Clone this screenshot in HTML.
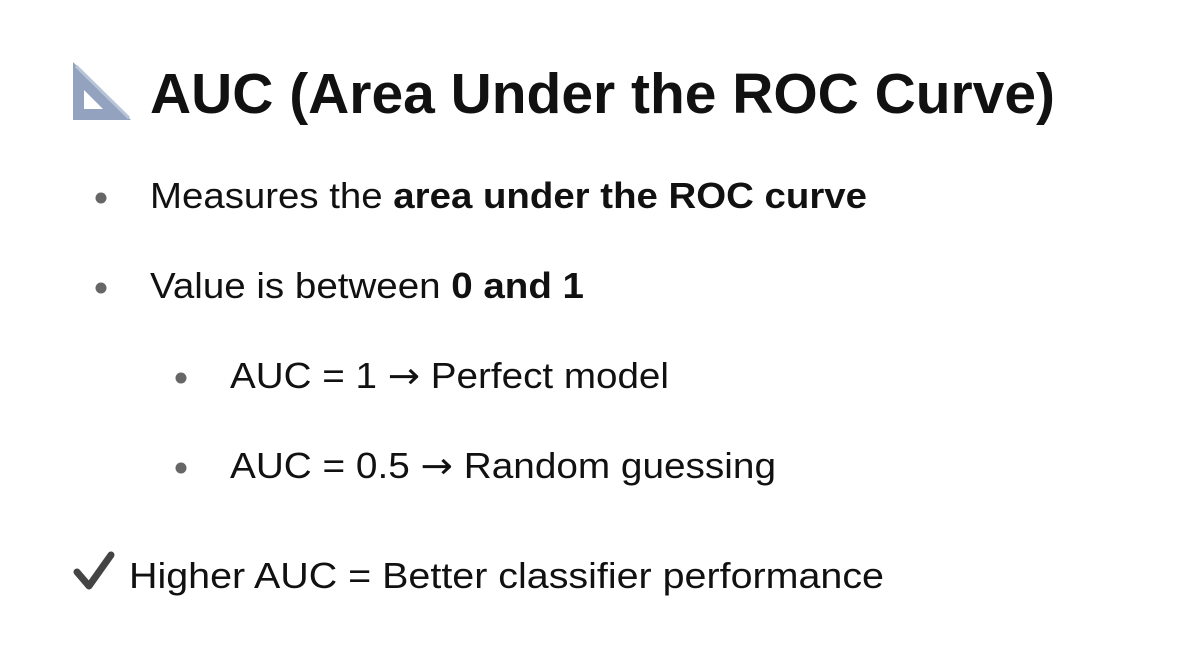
<!DOCTYPE html>
<html><head><meta charset="utf-8"><style>
html,body{margin:0;padding:0;background:#fff;}
svg{display:block;}
text{font-family:"Liberation Sans","DejaVu Sans",sans-serif;fill:#111;}
.arr{font-family:"DejaVu Sans",sans-serif;}
</style></head><body>
<svg width="1192" height="664" viewBox="0 0 1192 664">
  <g>
    <path d="M73,62 L73,120 L131,120 Z" fill="#93a3bf"/>
    <path d="M84,90 L84,109 L103,109 Z" fill="#fff"/>
    <path d="M76,66 L129,118" stroke="#b8c4d8" stroke-width="3"/>
  </g>
  <text x="150" y="113" font-size="57" font-weight="bold" textLength="905" lengthAdjust="spacingAndGlyphs">AUC (Area Under the ROC Curve)</text>

  <circle cx="101" cy="198" r="5.5" fill="#666"/>
  <text x="150" y="208" font-size="36" textLength="717" lengthAdjust="spacingAndGlyphs">Measures the <tspan font-weight="bold">area under the ROC curve</tspan></text>

  <circle cx="101" cy="288" r="5.5" fill="#666"/>
  <text x="150" y="298" font-size="36" textLength="434" lengthAdjust="spacingAndGlyphs">Value is between <tspan font-weight="bold">0 and 1</tspan></text>

  <circle cx="181" cy="378" r="5.5" fill="#666"/>
  <text x="230" y="388" font-size="36" textLength="439" lengthAdjust="spacingAndGlyphs">AUC = 1 <tspan class="arr">→</tspan> Perfect model</text>

  <circle cx="181" cy="468" r="5.5" fill="#666"/>
  <text x="230" y="478" font-size="36" textLength="546" lengthAdjust="spacingAndGlyphs">AUC = 0.5 <tspan class="arr">→</tspan> Random guessing</text>

  <path d="M77,572 L89,586 L111,555" fill="none" stroke="#444" stroke-width="7" stroke-linecap="round" stroke-linejoin="round"/>
  <text x="129" y="588" font-size="36" textLength="755" lengthAdjust="spacingAndGlyphs">Higher AUC = Better classifier performance</text>
</svg>
</body></html>
